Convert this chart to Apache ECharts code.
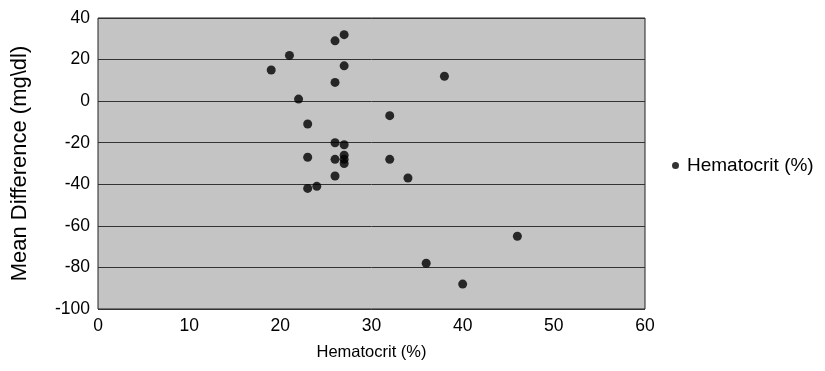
<!DOCTYPE html>
<html>
<head>
<meta charset="utf-8">
<script src="https://cdn.jsdelivr.net/npm/echarts@6/dist/echarts.min.js"></script>
<style>html,body{margin:0;padding:0;background:#fff;}#c{width:825px;height:371px;}</style>
</head>
<body>
<div id="c"></div>
<script>
var hematocrit = [27, 26, 21, 19, 27, 26, 38, 22, 32, 23, 26, 27, 23, 26, 27, 27, 27, 32, 26, 34, 23, 24, 46, 36, 40];
var meanDiff   = [32, 29, 22, 15, 17, 9, 12, 1, -7, -11, -20, -21, -27, -28, -26, -28, -30, -28, -36, -37, -42, -41, -65, -78, -88];
var xTicks = [0, 10, 20, 30, 40, 50, 60];
var yTicks = [40, 20, 0, -20, -40, -60, -80, -100];
var seriesName = 'Hematocrit (%)';

var pts = hematocrit.map(function (x, i) { return [x, meanDiff[i]]; });
var font = 'Liberation Sans, Arial, Helvetica, sans-serif';

var chart = echarts.init(document.getElementById('c'), null, {renderer: 'canvas'});
chart.setOption({
  animation: false,
  backgroundColor: '#ffffff',
  grid: {
    left: 98, right: 180, top: 18, bottom: 62,
    show: true, backgroundColor: '#c4c4c4', borderColor: '#222', borderWidth: 1
  },
  legend: {
    data: [seriesName],
    left: 667, top: 151,
    icon: 'circle', itemWidth: 7, itemHeight: 7, itemGap: 8,
    textStyle: {fontFamily: font, fontSize: 19, color: '#000', padding: [0, 0, 0, 3]}
  },
  xAxis: {
    type: 'value', min: xTicks[0], max: xTicks[xTicks.length - 1], interval: 10,
    name: 'Hematocrit (%)', nameLocation: 'middle', nameGap: 35,
    nameTextStyle: {fontFamily: font, fontSize: 16.5, color: '#000'},
    axisLine: {show: false}, axisTick: {show: false},
    axisLabel: {fontFamily: font, fontSize: 17.5, color: '#000', margin: 8},
    splitLine: {show: false}
  },
  yAxis: {
    type: 'value', min: yTicks[yTicks.length - 1], max: yTicks[0], interval: 20,
    name: 'Mean Difference (mg\\dl)', nameLocation: 'middle', nameGap: 67, nameRotate: 90,
    nameTextStyle: {fontFamily: font, fontSize: 22, color: '#000'},
    axisLine: {show: false}, axisTick: {show: false},
    axisLabel: {fontFamily: font, fontSize: 17.5, color: '#000', margin: 8},
    splitLine: {show: true, lineStyle: {color: '#333', width: 1}}
  },
  series: [{
    name: seriesName,
    type: 'scatter',
    data: pts,
    symbol: 'circle',
    symbolSize: 9,
    itemStyle: {color: '#000'}
  }]
});
</script>
</body>
</html>
